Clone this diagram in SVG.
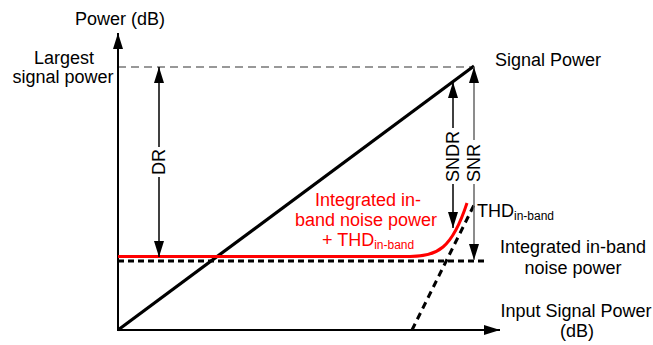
<svg xmlns="http://www.w3.org/2000/svg" width="653" height="345" viewBox="0 0 653 345">
<style>
text{font-family:"Liberation Sans",Arial,sans-serif;font-size:18px;fill:#000}
.sub{font-size:12px}
.red{fill:#ff0000}
.ax{stroke:#000;stroke-width:2;fill:none}
.arr{stroke:#000;stroke-width:1.5;fill:none}
.garr{stroke:#666;stroke-width:1.5;fill:none}
</style>
<defs>
<marker id="ah" viewBox="0 0 16 10" refX="16" refY="5" markerWidth="16" markerHeight="10" markerUnits="userSpaceOnUse" orient="auto-start-reverse"><path d="M0,0 L16,5 L0,10 Z" fill="#000"/></marker>
<marker id="ahg" viewBox="0 0 16 10" refX="16" refY="5" markerWidth="16" markerHeight="10" markerUnits="userSpaceOnUse" orient="auto-start-reverse"><path d="M0,0 L16,5 L0,10 Z" fill="#000"/></marker>
</defs>
<rect width="653" height="345" fill="#fff"/>
<g id="connectors">
<line x1="118" y1="67" x2="473" y2="67" stroke="#777" stroke-width="1.5" stroke-dasharray="8,5"/>
<line class="ax" x1="118" y1="331" x2="118" y2="33" marker-end="url(#ah)"/>
<line class="ax" x1="117" y1="330" x2="500" y2="330" marker-end="url(#ah)"/>
<line x1="118" y1="330" x2="474" y2="66" stroke="#000" stroke-width="3.2"/>
<line x1="118" y1="261" x2="488" y2="261" stroke="#000" stroke-width="3" stroke-dasharray="6,4"/>
<line x1="412" y1="330" x2="474" y2="205" stroke="#000" stroke-width="3" stroke-dasharray="7,5"/>
<path d="M118,256.5 L410,256.5 C437,256.5 452,249 467,203" stroke="#ff0000" stroke-width="3" fill="none"/>
<line class="arr" x1="159" y1="147" x2="159" y2="67" marker-end="url(#ah)"/>
<line class="arr" x1="159" y1="177" x2="159" y2="257" marker-end="url(#ah)"/>
<line class="arr" x1="453" y1="128" x2="453" y2="82" marker-end="url(#ah)"/>
<line class="arr" x1="453" y1="184" x2="453" y2="228" marker-end="url(#ah)"/>
<line class="garr" x1="474" y1="140" x2="474" y2="67" marker-end="url(#ahg)"/>
<line class="garr" x1="474" y1="184" x2="474" y2="260" marker-end="url(#ahg)"/>
</g>
<g id="labels">
<text x="120" y="25" text-anchor="middle">Power (dB)</text>
<text x="64" y="64" text-anchor="middle">Largest</text>
<text x="63" y="83" text-anchor="middle">signal power</text>
<text x="495" y="66">Signal Power</text>
<text transform="translate(165,162) rotate(-90)" text-anchor="middle">DR</text>
<text transform="translate(459,182) rotate(-90)">SNDR</text>
<text transform="translate(480,182) rotate(-90)">SNR</text>
<text x="477" y="217">THD<tspan class="sub" dy="3">in-band</tspan></text>
<text x="573" y="253" text-anchor="middle">Integrated in-band</text>
<text x="573" y="274" text-anchor="middle">noise power</text>
<text x="576" y="317" text-anchor="middle">Input Signal Power</text>
<text x="577" y="337" text-anchor="middle">(dB)</text>
<text class="red" x="368" y="206" text-anchor="middle">Integrated in-</text>
<text class="red" x="366" y="226" text-anchor="middle">band noise power</text>
<text class="red" x="322" y="246">+ THD<tspan class="sub" dy="3">in-band</tspan></text>
</g>
</svg>
